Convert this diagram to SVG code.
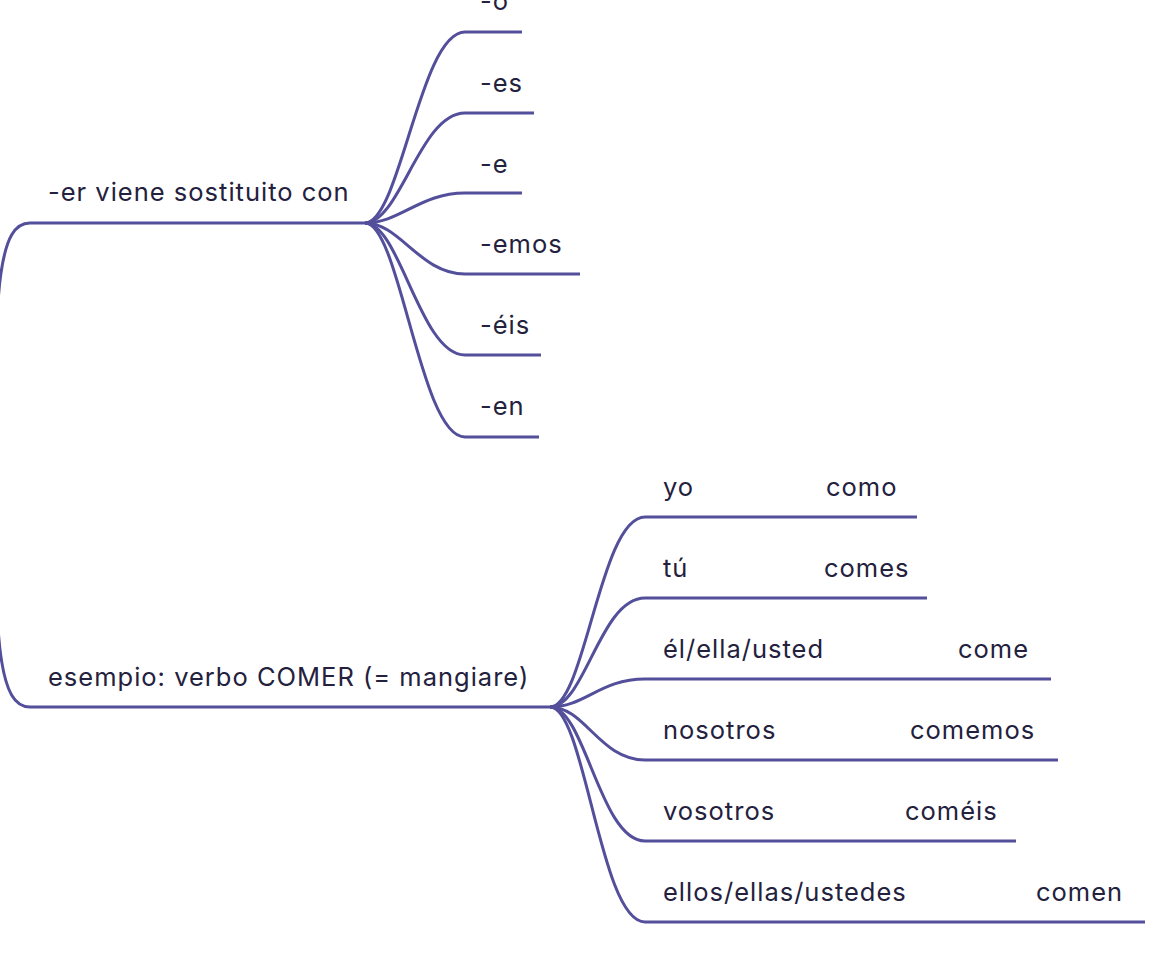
<svg xmlns="http://www.w3.org/2000/svg" width="1165" height="959" viewBox="0 0 1165 959">
<style>
.ln{fill:none;stroke:#534f9b;stroke-width:3;stroke-linecap:butt}
.t{font-family:Inter,"Open Sans","Liberation Sans",sans-serif;font-size:25.5px;letter-spacing:1px;fill:#23213d}
</style>
<rect width="1165" height="959" fill="#ffffff"/>
<g id="connectors">
<path class="ln" d="M-6,465 C-6,280 0,223 30,223"/>
<path class="ln" d="M-6,465 C-6,650 0,707 30,707"/>
<path class="ln" d="M365,223 C400,223 420,32 465,32"/>
<path class="ln" d="M365,223 C400,223 420,113 465,113"/>
<path class="ln" d="M365,223 C400,223 420,193 465,193"/>
<path class="ln" d="M365,223 C400,223 420,274 465,274"/>
<path class="ln" d="M365,223 C400,223 420,355 465,355"/>
<path class="ln" d="M365,223 C400,223 420,437 465,437"/>
<path class="ln" d="M550,707 C585,707 600,517 645,517"/>
<path class="ln" d="M550,707 C585,707 600,598 645,598"/>
<path class="ln" d="M550,707 C585,707 600,679 645,679"/>
<path class="ln" d="M550,707 C585,707 600,760 645,760"/>
<path class="ln" d="M550,707 C585,707 600,841 645,841"/>
<path class="ln" d="M550,707 C585,707 600,922 645,922"/>
</g>
<g id="n-er"><path class="ln" d="M30,223 H365"/><text class="t" x="48" y="201">-er viene sostituito con</text></g>
<g id="n-o"><path class="ln" d="M465,32 H522"/><text class="t" x="480" y="10">-o</text></g>
<g id="n-es"><path class="ln" d="M465,113 H534"/><text class="t" x="480" y="92">-es</text></g>
<g id="n-e"><path class="ln" d="M465,193 H522"/><text class="t" x="480" y="173">-e</text></g>
<g id="n-emos"><path class="ln" d="M465,274 H580"/><text class="t" x="480" y="253">-emos</text></g>
<g id="n-eis"><path class="ln" d="M465,355 H541"/><text class="t" x="480" y="334">-éis</text></g>
<g id="n-en"><path class="ln" d="M465,437 H539"/><text class="t" x="480" y="415">-en</text></g>
<g id="n-esempio"><path class="ln" d="M30,707 H550"/><text class="t" x="48" y="686">esempio: verbo COMER (= mangiare)</text></g>
<g id="n-yo"><path class="ln" d="M645,517 H917"/><text class="t" x="663" y="496">yo</text><text class="t" x="826" y="496">como</text></g>
<g id="n-tu"><path class="ln" d="M645,598 H927"/><text class="t" x="663" y="577">tú</text><text class="t" x="824" y="577">comes</text></g>
<g id="n-el"><path class="ln" d="M645,679 H1051"/><text class="t" x="663" y="658">él/ella/usted</text><text class="t" x="958" y="658">come</text></g>
<g id="n-nosotros"><path class="ln" d="M645,760 H1058"/><text class="t" x="663" y="739">nosotros</text><text class="t" x="910" y="739">comemos</text></g>
<g id="n-vosotros"><path class="ln" d="M645,841 H1016"/><text class="t" x="663" y="820">vosotros</text><text class="t" x="905" y="820">coméis</text></g>
<g id="n-ellos"><path class="ln" d="M645,922 H1145"/><text class="t" x="663" y="901">ellos/ellas/ustedes</text><text class="t" x="1036" y="901">comen</text></g>
</svg>
